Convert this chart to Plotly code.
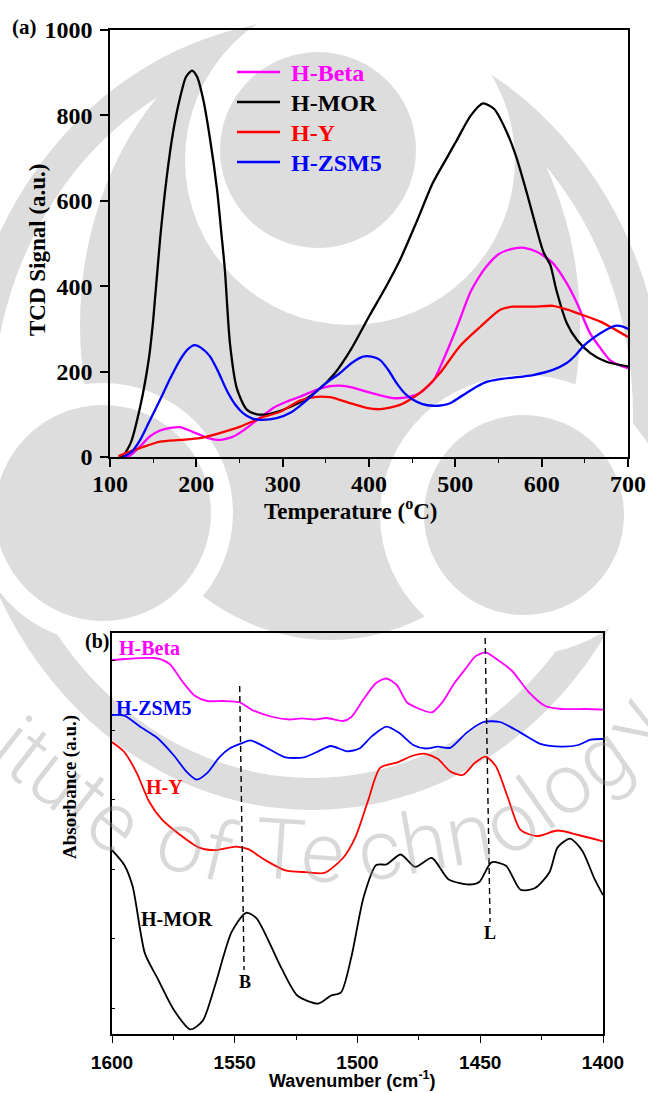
import plotly.graph_objects as go

# ---------------- data: (a) TPD ----------------
beta_T = [118, 123, 135, 146, 158, 170, 181, 192, 204, 214, 224, 233, 243, 255, 266, 278, 289, 305, 320, 340, 355, 366, 380, 397, 412, 428, 445, 459, 467, 475, 486, 502, 517, 527, 536, 550, 567, 580, 595, 613, 629, 641, 656, 668, 679, 690, 700]
beta_v = [0, 3, 25, 48, 62, 68, 70, 62, 52, 44, 40, 42, 48, 63, 80, 98, 115, 130, 141, 158, 166, 167, 163, 153, 145, 138, 140, 150, 163, 180, 227, 305, 384, 420, 446, 475, 488, 490, 480, 454, 407, 360, 290, 255, 227, 215, 208]

mor_T = [110, 115, 124, 135, 145, 150, 158, 166, 173, 181, 188, 195, 201, 208, 216, 224, 229, 233, 239, 247, 258, 270, 281, 300, 320, 340, 360, 380, 400, 420, 436, 455, 474, 490, 502, 518, 532, 545, 560, 571, 583, 592, 602, 610, 617, 629, 641, 656, 675, 700]
mor_v = [0, 3, 33, 118, 230, 320, 510, 660, 760, 840, 890, 905, 890, 837, 743, 626, 524, 440, 265, 160, 112, 100, 100, 110, 128, 155, 195, 255, 329, 400, 462, 550, 642, 700, 743, 800, 828, 815, 759, 700, 617, 550, 480, 450, 391, 314, 274, 244, 223, 212]

y_T = [110, 122, 135, 158, 181, 204, 227, 251, 274, 297, 320, 339, 355, 366, 380, 397, 413, 436, 459, 482, 505, 529, 552, 567, 590, 613, 630, 641, 668, 700]
y_v = [2, 12, 21, 36, 40, 44, 56, 71, 91, 106, 132, 141, 140, 134, 125, 115, 112, 122, 150, 196, 259, 305, 345, 352, 352, 354, 345, 337, 317, 281]

zsm_T = [115, 125, 135, 146, 158, 170, 181, 190, 198, 206, 216, 226, 235, 245, 254, 265, 274, 293, 310, 320, 332, 343, 355, 366, 380, 393, 403, 413, 422, 432, 441, 451, 462, 474, 484, 494, 503, 513, 525, 536, 550, 567, 590, 613, 629, 640, 648, 658, 668, 685, 693, 700]
zsm_v = [0, 12, 40, 85, 134, 185, 227, 252, 262, 255, 235, 197, 157, 123, 103, 90, 87, 91, 105, 120, 140, 161, 180, 196, 220, 235, 235, 227, 205, 173, 150, 134, 124, 120, 121, 126, 137, 150, 165, 176, 182, 186, 192, 204, 220, 240, 259, 276, 290, 307, 306, 300]

tpd_names = ["H-Beta", "H-MOR", "H-Y", "H-ZSM5"]
tpd_xticks = [100, 200, 300, 400, 500, 600, 700]
tpd_yticks = [0, 200, 400, 600, 800, 1000]

# ---------------- data: (b) pyridine IR (offset absorbance, a.u.) ----------------
ir_beta_w = [1600, 1595, 1581.5, 1576.5, 1571.4, 1566.4, 1561.3, 1554.6, 1547.9, 1542.9, 1534.5, 1527.7, 1522.7, 1517.6, 1512.6, 1505.9, 1502.5, 1497.5, 1492.4, 1488.2, 1484, 1479.8, 1475.6, 1469.7, 1465.5, 1460.5, 1455.5, 1452.1, 1447.9, 1443.7, 1437, 1430.3, 1423.5, 1416.8, 1406.7, 1400]
ir_beta_a = [374, 375, 375.6, 370, 352.7, 338.5, 333, 333, 331.5, 324, 317, 314.5, 315.6, 314.5, 316, 313, 317, 335, 351, 355.5, 349, 331.5, 326, 321.6, 331.5, 351, 366.8, 377.4, 381.6, 375.6, 363, 342, 328, 325, 325, 324.4]

ir_zsm_w = [1600, 1595, 1588.2, 1581.5, 1574.8, 1569.7, 1565.5, 1561.3, 1556.3, 1552.1, 1547, 1543.7, 1537.8, 1529.4, 1521.8, 1516, 1510.9, 1504.2, 1499.2, 1494.1, 1488.2, 1483.2, 1477.3, 1472.3, 1467.2, 1462.2, 1455.5, 1448.7, 1442, 1433.6, 1425.2, 1416.8, 1410, 1405, 1400]
ir_zsm_a = [319, 318.4, 306.7, 296, 278.5, 262.5, 254.4, 260.8, 276.7, 285.5, 290.8, 293.6, 287.3, 276.7, 276.7, 282.7, 288, 282.7, 285.5, 297.9, 307.4, 301.4, 289, 285.5, 287.3, 286.2, 301.4, 312, 312, 301.4, 289.8, 287.3, 289, 294.4, 295]

ir_y_w = [1600, 1595, 1589.9, 1584.9, 1579.8, 1573.1, 1564.7, 1558, 1549.6, 1544.5, 1537.8, 1529.4, 1521, 1513.4, 1505.9, 1500.8, 1495.8, 1490.8, 1484, 1477.3, 1472.3, 1467.2, 1462.2, 1457.1, 1452.1, 1447.9, 1443.7, 1438.7, 1433.6, 1426.9, 1418.5, 1410, 1400]
ir_y_a = [291.9, 282, 260.8, 232.5, 214.8, 200.7, 186.6, 183.8, 187.3, 184.8, 174.2, 163.6, 161.8, 161.1, 176, 197.2, 232.5, 266.1, 271.4, 278.5, 280.2, 274.9, 262.5, 259, 271.4, 277.4, 267.9, 236, 204.2, 197.9, 203.5, 199, 192.6]

ir_mor_w = [1600, 1595, 1591.6, 1586.6, 1581.5, 1574.8, 1568.1, 1563, 1558, 1551.3, 1545.4, 1541.2, 1531.1, 1524.4, 1516, 1510.9, 1506.7, 1502.5, 1497.5, 1492.4, 1488.2, 1482.4, 1476.5, 1469.7, 1463, 1454.6, 1450.4, 1445.4, 1439.5, 1433.6, 1427.7, 1421.8, 1418.5, 1413.4, 1408.4, 1403.4, 1400]
ir_mor_a = [183.8, 169, 147.7, 80.6, 55.8, 24, 4.6, 13.4, 48.8, 101.8, 121.2, 115.9, 66.4, 38.2, 30.4, 38.2, 41.7, 77, 137, 169, 169.6, 179.5, 167.1, 176, 154.8, 149.5, 152, 171.7, 168.2, 144.2, 146, 161.8, 186.6, 195.4, 183.1, 154.8, 138.9]

b_mark_w = [1548.0, 1546.2]
b_mark_a = [348, 64]
l_mark_w = [1448.0, 1446.0]
l_mark_a = [396, 112]

ir_xticks = [1600, 1550, 1500, 1450, 1400]

# ---------------- layout geometry ----------------
W, H = 648, 1093
LM, RM, TM, BM = 110, 20, 30, 59
PW = W - LM - RM
PH = H - TM - BM


def px(x):
    return (x - LM) / PW


def py(y):
    return (H - BM - y) / PH


SERIF = "Liberation Serif"
SANS = "Liberation Sans"
MAG, BLK, RED, BLU = "#ff00ff", "#000000", "#ff0000", "#0000ff"
tpd_colors = [MAG, BLK, RED, BLU]

fig = go.Figure()

for name, xs, ys, col in zip(tpd_names, [beta_T, mor_T, y_T, zsm_T], [beta_v, mor_v, y_v, zsm_v], tpd_colors):
    fig.add_trace(go.Scatter(x=xs, y=ys, mode="lines", name=name, xaxis="x", yaxis="y", showlegend=False,
                             line=dict(color=col, width=2.3, shape="spline", smoothing=0.7)))

for xs, ys, col in [(ir_beta_w, ir_beta_a, MAG), (ir_zsm_w, ir_zsm_a, BLU),
                    (ir_y_w, ir_y_a, RED), (ir_mor_w, ir_mor_a, BLK)]:
    fig.add_trace(go.Scatter(x=xs, y=ys, mode="lines", showlegend=False, xaxis="x2", yaxis="y2",
                             line=dict(color=col, width=1.8, shape="spline", smoothing=0.7)))

for xs, ys in [(b_mark_w, b_mark_a), (l_mark_w, l_mark_a)]:
    fig.add_trace(go.Scatter(x=xs, y=ys, mode="lines", showlegend=False, xaxis="x2", yaxis="y2",
                             line=dict(color=BLK, width=1.4, dash="6px,4px")))

serif_tick = dict(family=SERIF, size=24, color="black", weight="bold")
sans_tick = dict(family=SANS, size=19, color="black", weight="bold")

top_dom = [py(457), 1.0]
bot_dom = [0.0, py(633)]
bot_xdom = [px(112), px(603)]

fig.update_layout(
    width=W, height=H,
    margin=dict(l=LM, r=RM, t=TM, b=BM, pad=0, autoexpand=False),
    paper_bgcolor="white", plot_bgcolor="rgba(0,0,0,0)", showlegend=False,
    xaxis=dict(domain=[0, 1], anchor="y", range=[100, 700], tickvals=tpd_xticks,
               ticks="outside", ticklen=8, tickwidth=1.5, tickcolor="black",
               minor=dict(dtick=50, ticks="outside", ticklen=4, tickwidth=1.3, tickcolor="black"),
               showline=True, linewidth=1.6, linecolor="black", mirror=True,
               showgrid=False, zeroline=False, tickfont=serif_tick, ticklabelstandoff=-4),
    yaxis=dict(domain=top_dom, anchor="x", range=[0, 1000], tickvals=tpd_yticks,
               ticks="outside", ticklen=8, tickwidth=1.5, tickcolor="black",
               showline=True, linewidth=1.6, linecolor="black", mirror=True,
               showgrid=False, zeroline=False, tickfont=serif_tick, ticklabelstandoff=3),
    xaxis3=dict(overlaying="x", anchor="y", side="top", range=[100, 700], dtick=50, tick0=100,
                ticks="inside", ticklen=4, tickwidth=1.3, tickcolor="black", showticklabels=False,
                showline=False, showgrid=False, zeroline=False),
    yaxis3=dict(overlaying="y", anchor="x", side="right", range=[0, 1000], dtick=200, tick0=0,
                ticks="inside", ticklen=4, tickwidth=1.3, tickcolor="black", showticklabels=False,
                showline=False, showgrid=False, zeroline=False),
    xaxis2=dict(domain=bot_xdom, anchor="y2", range=[1600, 1400], tickvals=ir_xticks,
                ticks="outside", ticklen=7, tickwidth=1.4, tickcolor="black",
                minor=dict(dtick=25, tick0=1400, ticks="outside", ticklen=4, tickwidth=1.2, tickcolor="black"),
                showline=True, linewidth=1.5, linecolor="black", mirror=True,
                showgrid=False, zeroline=False, tickfont=sans_tick, ticklabelstandoff=3),
    yaxis2=dict(domain=bot_dom, anchor="x2", range=[0, 401], tick0=26, dtick=69.5,
                ticks="inside", ticklen=3, tickwidth=1.2, tickcolor="black", showticklabels=False,
                showline=True, linewidth=1.5, linecolor="black", mirror=True,
                showgrid=False, zeroline=False),
    xaxis4=dict(overlaying="x2", anchor="y2", side="top", range=[1600, 1400], dtick=25, tick0=1400,
                ticks="inside", ticklen=3, tickwidth=1.2, tickcolor="black", showticklabels=False,
                showline=False, showgrid=False, zeroline=False),
    yaxis4=dict(overlaying="y2", anchor="x2", side="right", range=[0, 401], tick0=26, dtick=69.5,
                ticks="inside", ticklen=3, tickwidth=1.2, tickcolor="black", showticklabels=False,
                showline=False, showgrid=False, zeroline=False),
)

ann = []


def add_text(text, x, y, size, color="black", family=SERIF, angle=0, xanchor="center", weight="bold"):
    ann.append(dict(text=text, x=px(x), y=py(y), xref="paper", yref="paper", showarrow=False,
                    xanchor=xanchor, yanchor="middle", textangle=angle,
                    font=dict(family=family, size=size, color=color, weight=weight)))


# faint watermark lettering ("...itute of Technology") curving through panel (b);
# translucent so the curves keep their colour where the letters cross them
WM_TXT = "rgba(150,150,150,0.36)"
for chunk, cx, cy, ang in [("itute", 68, 785, 38), ("of", 196, 846, 14), ("Te", 300, 852, 4),
                           ("chn", 425, 842, -10), ("olog", 556, 790, -35), ("y", 634, 722, -58)]:
    add_text(chunk, cx, cy, 84, WM_TXT, family="Roboto", angle=ang, weight=300)

add_text("(a)", 24, 27, 21)
add_text("TCD Signal (a.u.)", 37, 250, 23, angle=-90)
add_text("Temperature (<sup>o</sup>C)", 351, 509, 23)
add_text("(b)", 97, 641, 20)
add_text("Absorbance (a.u.)", 70, 787, 19, angle=-90)
add_text("Wavenumber (cm<sup>-1</sup>)", 352, 1079, 18, family=SANS)
add_text("H-Beta", 117, 648, 20, MAG, xanchor="left")
add_text("H-ZSM5", 114, 708, 20, BLU, xanchor="left")
add_text("H-Y", 144, 787, 20, RED, xanchor="left")
add_text("H-MOR", 139, 919, 20, BLK, xanchor="left")
add_text("B", 245, 982, 18)
add_text("L", 490, 933, 18)

# legend of panel (a), drawn by hand: sample line + coloured name
shapes = []
legend_rows = [72, 102, 132, 162]
for name, col, ry in zip(tpd_names, tpd_colors, legend_rows):
    add_text(name, 289, ry + 1, 24, col, xanchor="left")

fig.update_layout(annotations=ann)

# ---------------- watermark (light grey logo behind the plots) ----------------
GREY = "#dddddd"
WHITE = "#ffffff"
# (colour, x0, y0, x1, y1) ellipses in page pixels, painted in order
blobs = [
    (GREY, -40, 20, 665, 810),
    (WHITE, -8, 52, 633, 778),
    (GREY, 80, 10, 580, 640),
    (WHITE, 185, -5, 515, 325),
    (GREY, 220, 52, 416, 248),
    (WHITE, -27, 383, 233, 643),
    (GREY, -5, 405, 211, 621),
    (WHITE, 380, 375, 668, 655),
    (GREY, 424, 415, 624, 615),
]
for col, x0, y0, x1, y1 in blobs:
    shapes.append(dict(type="circle", xref="paper", yref="paper", layer="below",
                       x0=px(x0), x1=px(x1), y0=py(y1), y1=py(y0),
                       fillcolor=col, line=dict(width=0)))
for col, ry in zip(tpd_colors, legend_rows):
    shapes.append(dict(type="line", xref="paper", yref="paper", layer="above",
                       x0=px(237), x1=px(280), y0=py(ry), y1=py(ry),
                       line=dict(color=col, width=2.3)))
fig.update_layout(shapes=shapes)

fig.write_html("out.html")
